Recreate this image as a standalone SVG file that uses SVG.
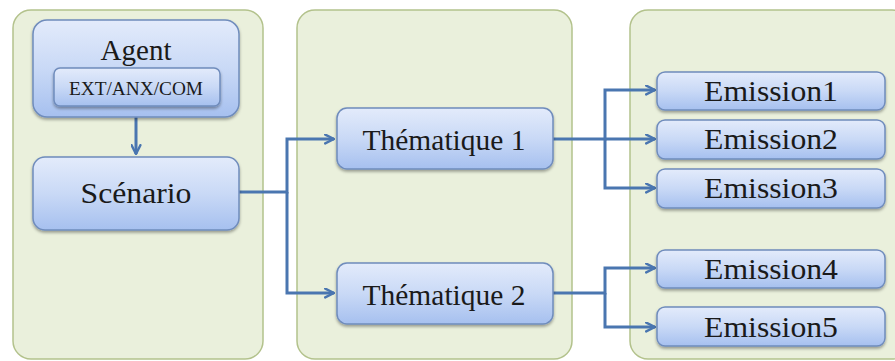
<svg xmlns="http://www.w3.org/2000/svg" width="895" height="361" viewBox="0 0 895 361">
<defs>
<linearGradient id="boxg" x1="0" y1="0" x2="0" y2="1">
<stop offset="0" stop-color="#e3ebfb"/>
<stop offset="0.5" stop-color="#c9d9f6"/>
<stop offset="1" stop-color="#a6c0ef"/>
</linearGradient>
<filter id="sh" x="-10%" y="-10%" width="120%" height="140%">
<feDropShadow dx="0" dy="2" stdDeviation="1.5" flood-color="#000" flood-opacity="0.35"/>
</filter>
<marker id="arr" viewBox="0 0 10 10" refX="9" refY="5" markerWidth="11" markerHeight="11" markerUnits="userSpaceOnUse" orient="auto">
<path d="M1,1 L9,5 L1,9" fill="none" stroke="#4a76b0" stroke-width="2.2" stroke-linecap="round" stroke-linejoin="round"/>
</marker>
</defs>
<style>
.panel{fill:#eaf0dc;stroke:#b3c28c;stroke-width:1.5}
.box{fill:url(#boxg);stroke:#6f8cbc;stroke-width:1.5;filter:url(#sh)}
.t{font-family:"Liberation Serif","Times New Roman",serif;fill:#1a1a1a;text-anchor:middle}
.c{fill:none;stroke:#4a76b0;stroke-width:3}
</style>
<rect width="895" height="361" fill="#ffffff"/>
<g id="panels">
<rect class="panel" x="13" y="10" width="250" height="349" rx="18"/>
<rect class="panel" x="297" y="10" width="275" height="349" rx="18"/>
<rect class="panel" x="630" y="10" width="280" height="349" rx="18"/>
</g>
<g id="connectors">
<path class="c" d="M136,117 V154" marker-end="url(#arr)"/>
<path class="c" d="M239,192 H287 V139 H334" marker-end="url(#arr)"/>
<path class="c" d="M287,192 V293 H334" marker-end="url(#arr)"/>
<path class="c" d="M553,139 H605 V90 H655" marker-end="url(#arr)"/>
<path class="c" d="M605,139 H655" marker-end="url(#arr)"/>
<path class="c" d="M605,139 V188 H655" marker-end="url(#arr)"/>
<path class="c" d="M553,293 H605 V268 H655" marker-end="url(#arr)"/>
<path class="c" d="M605,293 V327 H655" marker-end="url(#arr)"/>
</g>
<g id="agent">
<rect class="box" x="33" y="20" width="206" height="97" rx="14"/>
<text class="t" x="136" y="60" font-size="29">Agent</text>
<rect class="box" x="54" y="68" width="166" height="38" rx="6"/>
<text class="t" x="136" y="95" font-size="19" textLength="134" lengthAdjust="spacingAndGlyphs">EXT/ANX/COM</text>
</g>
<g id="scenario">
<rect class="box" x="33" y="157" width="206" height="73" rx="12"/>
<text class="t" x="136" y="203" font-size="30" textLength="111" lengthAdjust="spacingAndGlyphs">Scénario</text>
</g>
<g id="thematique1">
<rect class="box" x="337" y="108" width="216" height="61" rx="10"/>
<text class="t" x="444" y="150" font-size="29" textLength="163" lengthAdjust="spacingAndGlyphs">Thématique 1</text>
</g>
<g id="thematique2">
<rect class="box" x="337" y="263" width="216" height="61" rx="10"/>
<text class="t" x="444" y="305" font-size="29" textLength="163" lengthAdjust="spacingAndGlyphs">Thématique 2</text>
</g>
<g id="emission1">
<rect class="box" x="657" y="72" width="228" height="38" rx="8"/>
<text class="t" x="771" y="101" font-size="29" textLength="134" lengthAdjust="spacingAndGlyphs">Emission1</text>
</g>
<g id="emission2">
<rect class="box" x="657" y="120" width="228" height="39" rx="8"/>
<text class="t" x="771" y="149" font-size="29" textLength="134" lengthAdjust="spacingAndGlyphs">Emission2</text>
</g>
<g id="emission3">
<rect class="box" x="657" y="169" width="228" height="39" rx="8"/>
<text class="t" x="771" y="198" font-size="29" textLength="134" lengthAdjust="spacingAndGlyphs">Emission3</text>
</g>
<g id="emission4">
<rect class="box" x="657" y="250" width="228" height="38" rx="8"/>
<text class="t" x="771" y="279" font-size="29" textLength="134" lengthAdjust="spacingAndGlyphs">Emission4</text>
</g>
<g id="emission5">
<rect class="box" x="657" y="307" width="228" height="39" rx="8"/>
<text class="t" x="771" y="337" font-size="29" textLength="134" lengthAdjust="spacingAndGlyphs">Emission5</text>
</g>
</svg>
